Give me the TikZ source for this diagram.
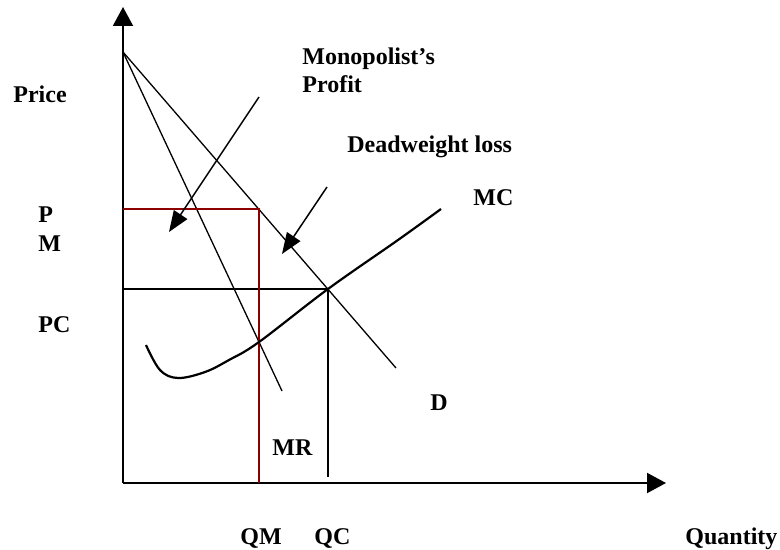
\documentclass[tikz,border=0pt]{standalone}
\usepackage{fontspec}
\setmainfont{Liberation Serif}
\usetikzlibrary{arrows.meta}
\definecolor{mred}{RGB}{140,0,0}
\begin{document}
\begin{tikzpicture}[x=0.5pt,y=-0.5pt,
  lab/.style={font=\fontsize{12}{14}\selectfont\bfseries, inner sep=0pt, anchor=base west},
  axisline/.style={line width=1pt, -{Triangle[length=9.5pt,width=10pt]}},
  thinline/.style={line width=0.65pt},
  redline/.style={line width=1.45pt, draw=mred},
  mcline/.style={line width=1.1pt},
  note/.style={line width=0.75pt, -{Triangle[length=10.5pt,width=8pt]}}]
\useasboundingbox (0,0) rectangle (780,550);
% coordinates
\coordinate (O) at (123,483);
\coordinate (Ytop) at (123,7);
\coordinate (Xend) at (666,483);
\coordinate (A) at (123,52);
\coordinate (Dend) at (396,368);
\coordinate (MRend) at (282,391);
\coordinate (PMy) at (123,209);
\coordinate (PMc) at (259,209);
\coordinate (QMx) at (259,483);
\coordinate (PCy) at (123,289);
\coordinate (PCc) at (328,289);
\coordinate (QCx) at (328,477);
\coordinate (N1s) at (259,97);
\coordinate (N1e) at (169,232);
\coordinate (N2s) at (327,187);
\coordinate (N2e) at (282,254);
% axes
\draw[axisline] (O) -- (Ytop);
\draw[axisline] (O) -- (Xend);
% demand and MR
\draw[thinline] (A) -- (Dend);
\draw[thinline] (A) -- (MRend);
% competitive price/quantity
\draw[thinline] (PCy) -- (PCc) -- (QCx);
% monopoly price/quantity
\draw[redline] (PMy) -- (PMc) -- (QMx);
% MC curve
\draw[mcline] plot[smooth, tension=0.6] coordinates {(146,345) (160,370) (178,378) (205,372) (229,360) (259,342) (328,289) (398,240) (441,209)};
% annotation arrows
\draw[note] (N1s) -- (N1e);
\draw[note] (N2s) -- (N2e);
% labels
\node[lab] (price) at (13,103) {Price};
\node[lab] (p) at (38,223) {P};
\node[lab] (m) at (38,252) {M};
\node[lab] (pc) at (38,332) {PC};
\node[lab] (mono) at (302,65) {Monopolist’s};
\node[lab] (profit) at (302,93) {Profit};
\node[lab] (dwl) at (347,153) {Deadweight loss};
\node[lab] (mc) at (473,206) {MC};
\node[lab] (d) at (430,410) {D};
\node[lab] (mr) at (272,455) {MR};
\node[lab] (qm) at (240,544) {QM};
\node[lab] (qc) at (314,544) {QC};
\node[lab] (qty) at (685,544) {Quantity};
\end{tikzpicture}
\end{document}
